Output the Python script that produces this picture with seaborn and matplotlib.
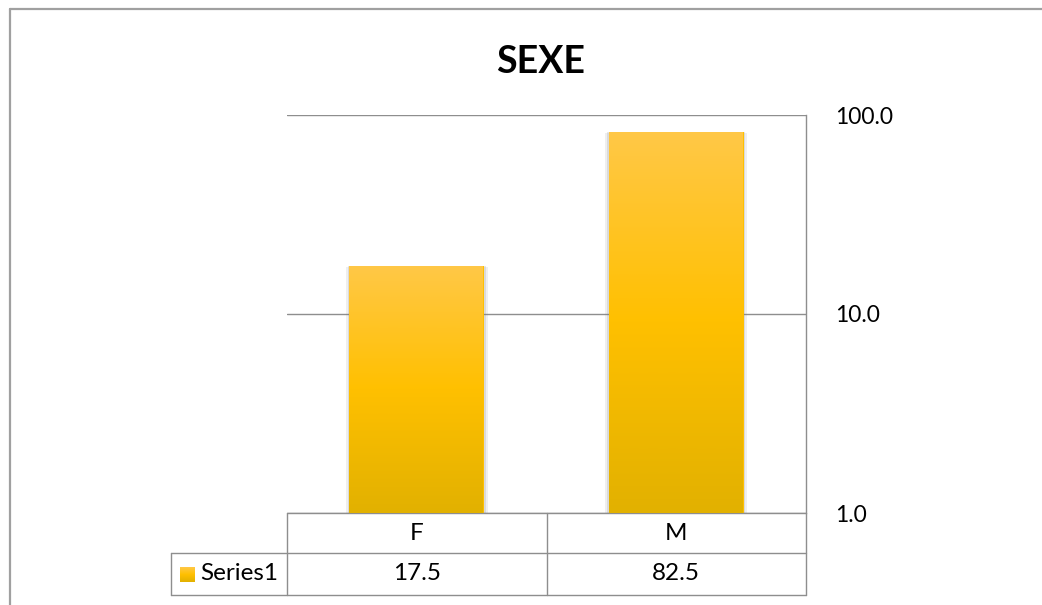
import numpy as np
import matplotlib
matplotlib.use("Agg")
import matplotlib.pyplot as plt
import matplotlib.patheffects as pe
import seaborn as sns
from matplotlib.colors import LinearSegmentedColormap
from matplotlib.lines import Line2D
from matplotlib.transforms import blended_transform_factory
from matplotlib.ticker import FixedLocator, FuncFormatter, NullLocator

# --- data ---------------------------------------------------------------
categories = ["F", "M"]
values = [17.5, 82.5]
series_name = "Series1"
title = "SEXE"
y_ticks = [1, 10, 100]

# --- style --------------------------------------------------------------
sns.set_theme(style="white")
plt.rcParams["font.family"] = ["Lato", "DejaVu Sans"]

GRID = "#8E8E8E"
BAR = "#FFC000"
bar_cmap = LinearSegmentedColormap.from_list(
    "bar_fill", [(0.0, "#E2B100"), (0.5, "#FFC000"), (1.0, "#FFC847")])

W, H = 1042, 605
fig = plt.figure(figsize=(W / 100, H / 100), dpi=100)
fig.patch.set_facecolor("white")

# plot area (pixels -> figure fractions)
L, R, T, B = 287, 806, 115, 513
ax = fig.add_axes([L / W, 1 - B / H, (R - L) / W, (B - T) / H])
ax.set_yscale("log")

sns.barplot(x=categories, y=values, ax=ax, width=0.52, color=BAR,
            saturation=1, edgecolor="none", zorder=2)
ax.set_xlim(-0.5, len(categories) - 0.5)
ax.set_ylim(1, 100)

# x in data units, y in axes fraction -> gradient is linear on screen
xy_tr = blended_transform_factory(ax.transData, ax.transAxes)
lo, hi = np.log10(ax.get_ylim())
grad = np.linspace(0, 1, 256).reshape(-1, 1)

shadow = [pe.SimplePatchShadow(offset=(dx, dy), shadow_rgbFace="#808080", alpha=a)
          for dx, dy, a in ((0, -3, 0.12), (0, -1.5, 0.2), (2.5, -1, 0.12),
                            (-2.5, -1, 0.12), (1.2, 0, 0.18), (-1.2, 0, 0.18))]
for patch in ax.patches:
    x0, w, h = patch.get_x(), patch.get_width(), patch.get_height()
    patch.set_path_effects(shadow + [pe.Normal()])
    top = (np.log10(h) - lo) / (hi - lo)
    im = ax.imshow(grad, cmap=bar_cmap, origin="lower", aspect="auto",
                   extent=[x0, x0 + w, 0, top], transform=xy_tr,
                   interpolation="bilinear", zorder=3)
    im.set_clip_path(patch)
ax.set_xlim(-0.5, len(categories) - 0.5)
ax.set_ylim(1, 100)

# axes: gridlines, right-side log labels
ax.yaxis.grid(True, color=GRID, lw=1.0, zorder=0)
ax.xaxis.grid(False)
ax.yaxis.tick_right()
ax.yaxis.set_major_locator(FixedLocator(y_ticks))
ax.yaxis.set_minor_locator(NullLocator())
ax.yaxis.set_major_formatter(FuncFormatter(lambda v, _: f"{v:.1f}"))
ax.tick_params(axis="y", length=0, pad=21, labelsize=16.5, labelcolor="black")
ax.set_xticks([])
ax.set_xlabel("")
ax.set_ylabel("")
for side in ("left", "top", "bottom"):
    ax.spines[side].set_visible(False)
ax.spines["right"].set_color(GRID)
ax.spines["right"].set_linewidth(1.0)

# --- data table below the plot -----------------------------------------
ph = B - T
pw = R - L
y_head = -40 / ph
y_row = -82 / ph
x_lab = (171 - L) / pw
TABLE_FS = 17.5

line_kw = dict(color=GRID, lw=1.0, transform=ax.transAxes, clip_on=False)
for y, xa in ((0, 0), (y_head, x_lab), (y_row, x_lab)):
    ax.add_line(Line2D([xa, 1], [y, y], **line_kw))
ax.add_line(Line2D([x_lab, x_lab], [y_head, y_row], **line_kw))
n = len(categories)
for k in range(n + 1):
    xk = k / n
    ax.add_line(Line2D([xk, xk], [0, y_row], **line_kw))

for i, (cat, val) in enumerate(zip(categories, values)):
    ax.text(i, y_head / 2, cat, transform=xy_tr, ha="center", va="center",
            fontsize=TABLE_FS, color="black")
    ax.text(i, (y_head + y_row) / 2, f"{val:.1f}", transform=xy_tr,
            ha="center", va="center", fontsize=TABLE_FS, color="black")

# series key (small gradient swatch) in the row-label cell
sw = 15 / pw
sh = 15 / ph
y_mid = (y_head + y_row) / 2
ax.imshow(grad, cmap=bar_cmap, origin="lower", aspect="auto",
          extent=[x_lab + 9 / pw, x_lab + 9 / pw + sw, y_mid - sh / 2, y_mid + sh / 2],
          transform=ax.transAxes, clip_on=False, zorder=4)
ax.text(x_lab + 29 / pw, y_mid, series_name, transform=ax.transAxes,
        ha="left", va="center", fontsize=TABLE_FS, color="black")
ax.set_xlim(-0.5, len(categories) - 0.5)
ax.set_ylim(1, 100)

# --- title and chart-area border ---------------------------------------
fig.text(541 / W, 1 - 62 / H, title, ha="center", va="center",
         fontsize=27, fontweight="bold", color="black")

bx, by = 10 / W, 1 - 9 / H
fig.add_artist(Line2D([bx, 1], [by, by], color="#A0A0A0", lw=1.6,
                      transform=fig.transFigure))
fig.add_artist(Line2D([bx, bx], [0, by], color="#A0A0A0", lw=1.6,
                      transform=fig.transFigure))

fig.savefig("out.png", dpi=100, facecolor="white")
